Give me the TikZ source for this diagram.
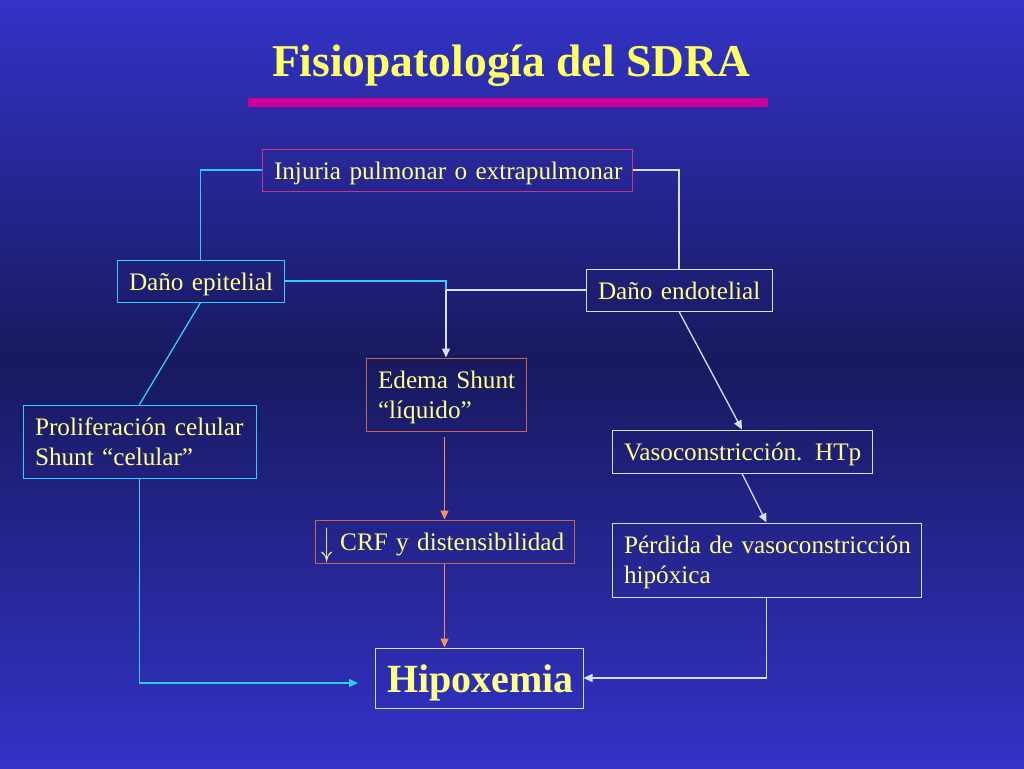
\documentclass[tikz,border=0pt]{standalone}
\usepackage{fontspec}
\setmainfont{Liberation Serif}
\usetikzlibrary{arrows.meta,calc}
\definecolor{bgtop}{RGB}{51,51,200}
\definecolor{bgmid}{RGB}{24,25,94}
\definecolor{txtyel}{RGB}{255,255,140}
\definecolor{ttlyel}{RGB}{255,255,102}
\definecolor{magline}{RGB}{204,0,153}
\definecolor{injb}{RGB}{204,51,136}
\definecolor{cyanb}{RGB}{51,204,255}
\definecolor{whiteb}{RGB}{220,220,255}
\definecolor{orangeb}{RGB}{200,100,80}
\definecolor{orangel}{RGB}{255,140,80}
\definecolor{hipob}{RGB}{220,220,220}
\begin{document}
\begin{tikzpicture}[x=1pt,y=-1pt,
  box/.style={draw, line width=1pt, inner xsep=12pt, inner ysep=0pt,
    align=left, text=txtyel, font=\fontsize{25.2}{30}\selectfont},
  single/.style={text height=20pt, text depth=2pt},
  double/.style={text height=20pt, text depth=33pt},
  cyanline/.style={draw=cyanb, line width=1.3pt},
  whiteline/.style={draw=whiteb, line width=1.3pt},
  orangeline/.style={draw=orangel, line width=1.3pt},
  tip/.style={-{Triangle[length=9pt,width=8pt]}}
]
\useasboundingbox (0,0) rectangle (1024,768);
\shade[top color=bgtop, bottom color=bgmid] (0,0) rectangle (1024,360);
\shade[top color=bgmid, bottom color=bgtop] (0,360) rectangle (1024,768);

\node[anchor=base, text=ttlyel, font=\fontsize{45.5}{50}\selectfont\bfseries] (title) at (511,76) {Fisiopatología del SDRA};
\fill[magline] (248,98) rectangle (768,107);

\node[box, single, draw=injb, text width=346pt, minimum height=42pt] (inj) at (447,170) {\mbox{Injuria pulmonar o extrapulmonar}};
\node[box, single, draw=cyanb, text width=143pt, minimum height=42pt] (epi) at (200.5,281) {\mbox{Daño epitelial}};
\node[box, single, draw=whiteb, text width=162pt, minimum height=42pt] (endo) at (679,290) {\mbox{Daño endotelial}};
\node[box, double, draw=orangeb, text width=136pt, minimum height=73pt] (edema) at (446,394.5) {\mbox{Edema Shunt}\\\mbox{“líquido”}};
\node[box, double, draw=cyanb, text width=209pt, minimum height=73pt] (prolif) at (139.5,441.5) {\mbox{Proliferación celular}\\\mbox{Shunt “celular”}};
\node[box, single, draw=whiteb, text width=236pt, minimum height=43pt] (vaso) at (742,451.5) {\mbox{Vasoconstricción. HTp}};
\node[box, single, draw=orangeb, inner xsep=6pt, text width=247pt, minimum height=43pt] (crf) at (444.5,541.5) {\mbox{\raisebox{-5pt}{\scalebox{0.9}[1.6]{$\downarrow$}}\hspace{8pt}CRF y distensibilidad}};
\node[box, double, draw=whiteb, text width=285pt, minimum height=74pt] (perd) at (766.5,560) {\mbox{Pérdida de vasoconstricción}\\\mbox{hipóxica}};
\node[box, draw=hipob, align=center, text width=184pt, minimum height=60pt, text height=30pt, text depth=2pt, font=\fontsize{40}{44}\selectfont\bfseries] (hipo) at (479,678) {\mbox{Hipoxemia}};

\coordinate (j) at (446,290);
\coordinate (hl) at (358,683);

\draw[cyanline] (inj.west) -| (epi.north);
\draw[whiteline] (inj.east) -| (endo.north);
\draw[cyanline] (epi.east) -| (j);
\draw[whiteline] (endo.west) -- (j);
\draw[whiteline, tip] (j) -- (edema.north);
\draw[cyanline] (epi.south) -- (prolif.north);
\draw[cyanline, tip] (prolif.south) |- (hl);
\draw[orangeline, tip] ([yshift=-5pt]edema.south -| crf.north) -- (crf.north);
\draw[orangeline, tip] (crf.south) -- (crf.south |- hipo.north);
\draw[whiteline, tip] (endo.south) -- (vaso.north);
\draw[whiteline, tip] (vaso.south) -- (perd.north);
\draw[whiteline, tip] (perd.south) |- (hipo.east);
\end{tikzpicture}
\end{document}
